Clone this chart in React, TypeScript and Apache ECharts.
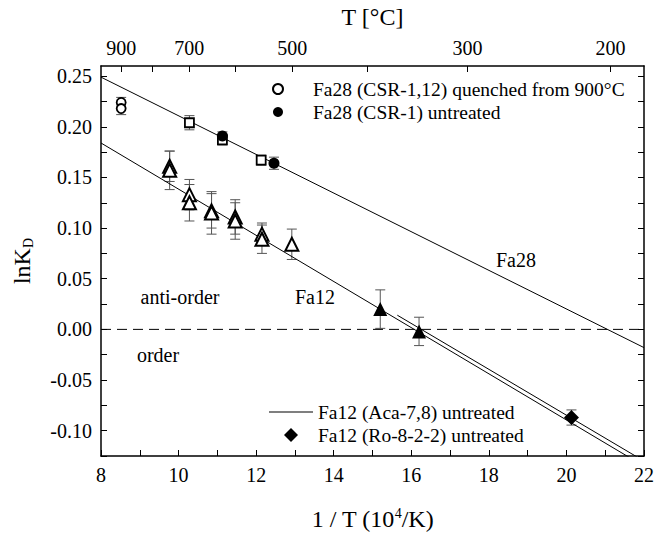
import React, { useEffect, useRef } from "react";
import * as echarts from "echarts";

// ---- axis ticks ----
const bottomTicks = [8, 9, 10, 11, 12, 13, 14, 15, 16, 17, 18, 19, 20, 21, 22];
const yTickValues = [-0.125, -0.1, -0.075, -0.05, -0.025, 0, 0.025, 0.05, 0.075, 0.1, 0.125, 0.15, 0.175, 0.2, 0.225, 0.25];
const yLabelValues = [-0.1, -0.05, 0, 0.05, 0.1, 0.15, 0.2, 0.25];
const topTickTemps = [900, 800, 700, 600, 500, 400, 300, 200];
const topLabelTemps = [900, 700, 500, 300, 200];

// ---- data: [1/T (1e4/K), lnKD, error] ----
const fa28Quenched = [[8.52, 0.224, 0.005], [8.52, 0.218, 0.006]];
const fa28QuenchedSq = [[10.28, 0.204, 0.007], [11.13, 0.187, 0.005], [12.13, 0.167, 0.005]];
const fa28Untreated = [[11.13, 0.191, 0.004], [12.46, 0.164, 0.006]];
const fa12Quenched = [
  [9.77, 0.161, 0.015], [9.77, 0.157, 0.019],
  [10.28, 0.133, 0.015], [10.28, 0.125, 0.018],
  [10.85, 0.117, 0.017], [10.85, 0.115, 0.021],
  [11.46, 0.111, 0.017], [11.46, 0.107, 0.018],
  [12.15, 0.094, 0.011], [12.15, 0.089, 0.014],
  [12.92, 0.084, 0.015],
];
const fa12Untreated = [[15.2, 0.02, 0.019], [16.2, -0.002, 0.014]];
const fa12Ro = [[20.13, -0.087, 0.0075]];

// ---- fitted lines ----
const fa28Fit = [[8, 0.249], [22, -0.018]];
const fa12Fit = [[8, 0.184], [22, -0.135]];
const acaFit = [[15.64, 0.014], [22, -0.13]];
const zeroLine = [[8, 0], [22, 0]];

const NAME_Q = "Fa28 (CSR-1,12) quenched from 900°C";
const NAME_U = "Fa28 (CSR-1) untreated";
const NAME_ACA = "Fa12 (Aca-7,8) untreated";
const NAME_RO = "Fa12 (Ro-8-2-2) untreated";

const FONT = "Liberation Serif";
const toInvT = (t: number) => 1e4 / (t + 273.15);

export default function App() {
  const ref = useRef<HTMLDivElement>(null);
  useEffect(() => {
    if (!ref.current) return;
    const chart = echarts.init(ref.current, undefined, { renderer: "svg" });
    const axisLine = { show: true, onZero: false, lineStyle: { color: "#000", width: 1.5 } };
    const tickStyle = { color: "#000", width: 1 };
    const labelStyle = { color: "#000", fontSize: 20, fontFamily: FONT };
    const legendText = { fontSize: 19.5, fontFamily: FONT, color: "#000", lineHeight: 20 };
    const allErr = [...fa28Quenched, ...fa28QuenchedSq, ...fa28Untreated, ...fa12Quenched, ...fa12Untreated, ...fa12Ro];
    const openStyle = { color: "#fff", borderColor: "#000", borderWidth: 1.8, opacity: 1 };
    const solidStyle = { color: "#000", opacity: 1 };
    const lineSeries = (name: string, data: number[][], extra: any = {}) => ({
      name,
      type: "line",
      data,
      symbol: "none",
      z: 2,
      lineStyle: { color: "#000", width: 1, ...extra },
      itemStyle: { color: "#000" },
    });
    chart.setOption({
      animation: false,
      grid: { left: 101, right: 10, top: 62, bottom: 78 },
      xAxis: [
        {
          type: "value",
          min: 8,
          max: 22,
          interval: 2,
          position: "bottom",
          axisLine,
          axisTick: { show: true, inside: true, length: 6, customValues: bottomTicks, lineStyle: tickStyle },
          axisLabel: { ...labelStyle, margin: 9 },
          splitLine: { show: false },
          name: "1 / T (10{sup|4}/K)",
          nameLocation: "middle",
          nameGap: 50,
          nameTextStyle: {
            fontSize: 24,
            fontFamily: FONT,
            color: "#000",
            rich: { sup: { fontSize: 14, fontFamily: FONT, color: "#000", padding: [0, 0, 12, 0] } },
          },
        },
        {
          type: "value",
          min: 8,
          max: 22,
          position: "top",
          axisLine,
          axisTick: { show: true, inside: true, length: 6, customValues: topTickTemps.map(toInvT), lineStyle: tickStyle },
          axisLabel: {
            ...labelStyle,
            margin: 8,
            customValues: topLabelTemps.map(toInvT),
            formatter: (v: number) => String(Math.round(1e4 / v - 273.15)),
          },
          splitLine: { show: false },
          name: "T [°C]",
          nameLocation: "middle",
          nameGap: 37,
          nameTextStyle: { fontSize: 24, fontFamily: FONT, color: "#000" },
        },
      ],
      yAxis: [
        {
          type: "value",
          min: -0.125,
          max: 0.26,
          position: "left",
          axisLine,
          axisTick: { show: true, inside: true, length: 6, customValues: yTickValues, lineStyle: tickStyle },
          axisLabel: { ...labelStyle, margin: 9, customValues: yLabelValues, formatter: (v: number) => v.toFixed(2) },
          splitLine: { show: false },
          name: "lnK{sub|D}",
          nameLocation: "middle",
          nameRotate: 90,
          nameGap: 66,
          nameTextStyle: {
            fontSize: 24,
            fontFamily: FONT,
            color: "#000",
            rich: { sub: { fontSize: 14, fontFamily: FONT, color: "#000", padding: [12, 0, 0, 0] } },
          },
        },
        {
          type: "value",
          min: -0.125,
          max: 0.26,
          position: "right",
          axisLine,
          axisTick: { show: true, inside: true, length: 6, customValues: yTickValues, lineStyle: tickStyle },
          axisLabel: { show: false },
          splitLine: { show: false },
        },
      ],
      legend: [
        {
          data: [NAME_Q, NAME_U],
          orient: "vertical",
          left: 272,
          top: 79,
          padding: 0,
          itemWidth: 36,
          itemHeight: 10,
          itemGap: 3,
          selectedMode: false,
          textStyle: { ...legendText, padding: [0, 0, 0, 12] },
        },
        {
          data: [
            { name: NAME_ACA, icon: "path://M0,0 L44,0 L44,1 L0,1 Z" },
            { name: NAME_RO, icon: "path://M7,0 L14,7 L7,14 L0,7 Z" },
          ],
          orient: "vertical",
          left: 269,
          top: 402,
          padding: 0,
          itemWidth: 44,
          itemHeight: 14,
          itemGap: 3,
          symbolKeepAspect: true,
          selectedMode: false,
          textStyle: legendText,
        },
      ],
      graphic: [
        { type: "text", x: 516, y: 260, style: { text: "Fa28", font: `20px ${FONT}`, fill: "#000", textAlign: "center", textVerticalAlign: "middle" } },
        { type: "text", x: 315, y: 297, style: { text: "Fa12", font: `20px ${FONT}`, fill: "#000", textAlign: "center", textVerticalAlign: "middle" } },
        { type: "text", x: 180, y: 297, style: { text: "anti-order", font: `20px ${FONT}`, fill: "#000", textAlign: "center", textVerticalAlign: "middle" } },
        { type: "text", x: 158, y: 355, style: { text: "order", font: `20px ${FONT}`, fill: "#000", textAlign: "center", textVerticalAlign: "middle" } },
      ],
      series: [
        {
          name: "errors",
          type: "custom",
          data: allErr,
          z: 1,
          encode: { x: 0, y: 1 },
          renderItem: (params: any, api: any) => {
            const x = api.value(0);
            const y = api.value(1);
            const e = api.value(2);
            const t = api.coord([x, y + e]);
            const b = api.coord([x, y - e]);
            const hw = 5;
            const st = { stroke: "#555", lineWidth: 1 };
            return {
              type: "group",
              children: [
                { type: "line", shape: { x1: t[0], y1: t[1], x2: b[0], y2: b[1] }, style: st },
                { type: "line", shape: { x1: t[0] - hw, y1: t[1], x2: t[0] + hw, y2: t[1] }, style: st },
                { type: "line", shape: { x1: b[0] - hw, y1: b[1], x2: b[0] + hw, y2: b[1] }, style: st },
              ],
            };
          },
        },
        lineSeries("Fa28 fit", fa28Fit),
        lineSeries("Fa12 fit", fa12Fit),
        lineSeries(NAME_ACA, acaFit),
        lineSeries("zero", zeroLine, { type: [10, 6] }),
        { name: NAME_Q, type: "scatter", data: fa28Quenched, symbol: "circle", symbolSize: 9, z: 3, itemStyle: openStyle },
        { name: "Fa28 quenched sq", type: "scatter", data: fa28QuenchedSq, symbol: "rect", symbolSize: 9, z: 3, itemStyle: openStyle },
        { name: NAME_U, type: "scatter", data: fa28Untreated, symbol: "circle", symbolSize: 11, z: 4, itemStyle: solidStyle },
        { name: "Fa12 quenched", type: "scatter", data: fa12Quenched, symbol: "triangle", symbolSize: 13, z: 3, itemStyle: { ...openStyle, borderWidth: 2 } },
        { name: "Fa12 untreated", type: "scatter", data: fa12Untreated, symbol: "triangle", symbolSize: 14, z: 3, itemStyle: solidStyle },
        { name: NAME_RO, type: "scatter", data: fa12Ro, symbol: "diamond", symbolSize: 15, z: 3, itemStyle: solidStyle },
      ],
    });
    return () => chart.dispose();
  }, []);
  return <div ref={ref} style={{ position: "absolute", left: 0, top: 0, width: 657, height: 536 }} />;
}
